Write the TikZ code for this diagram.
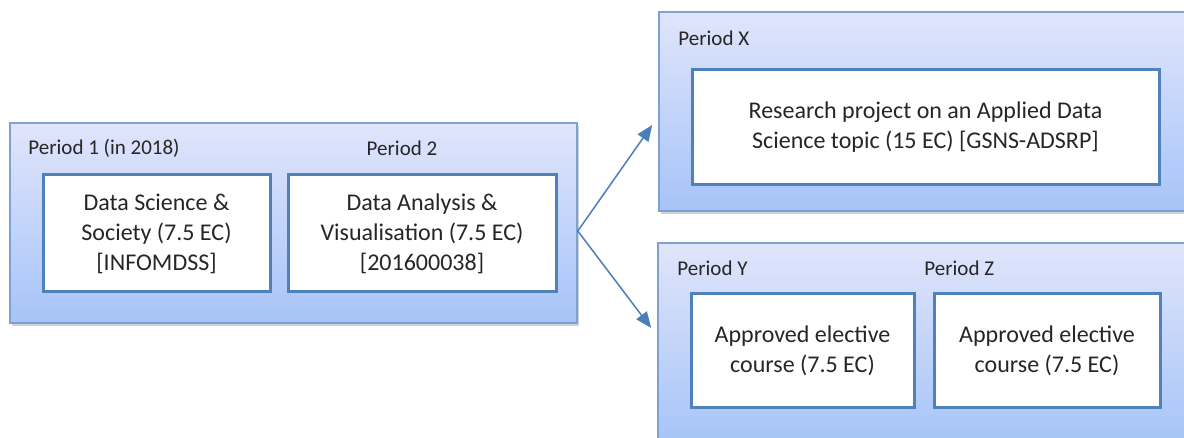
\documentclass[tikz,border=0pt]{standalone}
\usepackage{fontspec}
\setmainfont{Carlito}
\usetikzlibrary{arrows.meta,shadows}

\definecolor{periodtop}{RGB}{224,229,251}
\definecolor{periodbot}{RGB}{166,196,248}
\definecolor{periodline}{RGB}{125,161,214}
\definecolor{courseline}{RGB}{79,129,189}
\definecolor{arrowblue}{RGB}{74,126,187}

\tikzset{
  period/.style={draw=periodline, line width=0.8pt, top color=periodtop, bottom color=periodbot,
    drop shadow={opacity=0.35, shadow xshift=1pt, shadow yshift=-1.5pt}},
  course/.style={draw=courseline, line width=1.5pt, fill=white, align=center, text=black!85,
    font=\fontsize{12pt}{15pt}\selectfont},
  plabel/.style={anchor=west, text=black!85, inner sep=0pt},
  arr/.style={draw=arrowblue, line width=0.75pt, -{Triangle[length=8pt,width=6.5pt]}}
}

\begin{document}
\begin{tikzpicture}[x=0.5pt, y=-0.5pt, font=\fontsize{10.5pt}{15pt}\selectfont]
    \useasboundingbox (0,0) rectangle (1184,438);

    % first year
    \node[period, minimum width=283.5pt, minimum height=100pt] (p12) at (293.5,223) {};
    \node[plabel] (lab1) at (28,148) {Period 1 (in 2018)};
    \node[plabel, anchor=center] (lab2) at (402,148) {Period 2};
    \node[course, minimum width=113.5pt, minimum height=58.5pt] (dss) at (156.5,233.5) {Data Science \&\\Society (7.5 EC)\\{[}INFOMDSS{]}};
    \node[course, minimum width=134pt, minimum height=58.5pt] (dav) at (422,233.5) {Data Analysis \&\\Visualisation (7.5 EC)\\{[}201600038{]}};

    % research project
    \node[period, minimum width=270.5pt, minimum height=99.5pt] (pX) at (929.5,111.5) {};
    \node[plabel] (labX) at (678,38) {Period X};
    \node[course, minimum width=233.5pt, minimum height=57.5pt] (rp) at (925.5,127.5) {Research project on an Applied Data\\Science topic (15 EC) {[}GSNS-ADSRP{]}};

    % electives
    \node[period, minimum width=271pt, minimum height=101pt] (pYZ) at (929,344) {};
    \node[plabel] (labY) at (677,268) {Period Y};
    \node[plabel] (labZ) at (924,268) {Period Z};
    \node[course, minimum width=111.5pt, minimum height=56.5pt] (elY) at (802.5,350.5) {Approved elective\\course (7.5 EC)};
    \node[course, minimum width=113pt, minimum height=56.5pt] (elZ) at (1047,350.5) {Approved elective\\course (7.5 EC)};

    % arrows
    \coordinate (fork) at ([yshift=-4pt]p12.east);
    \coordinate (toX) at ([xshift=-3pt, yshift=-6.75pt]pX.west);
    \coordinate (toYZ) at ([xshift=-3pt, yshift=8pt]pYZ.west);
    \draw[arr] (fork) -- (toX);
    \draw[arr] (fork) -- (toYZ);
\end{tikzpicture}
\end{document}
